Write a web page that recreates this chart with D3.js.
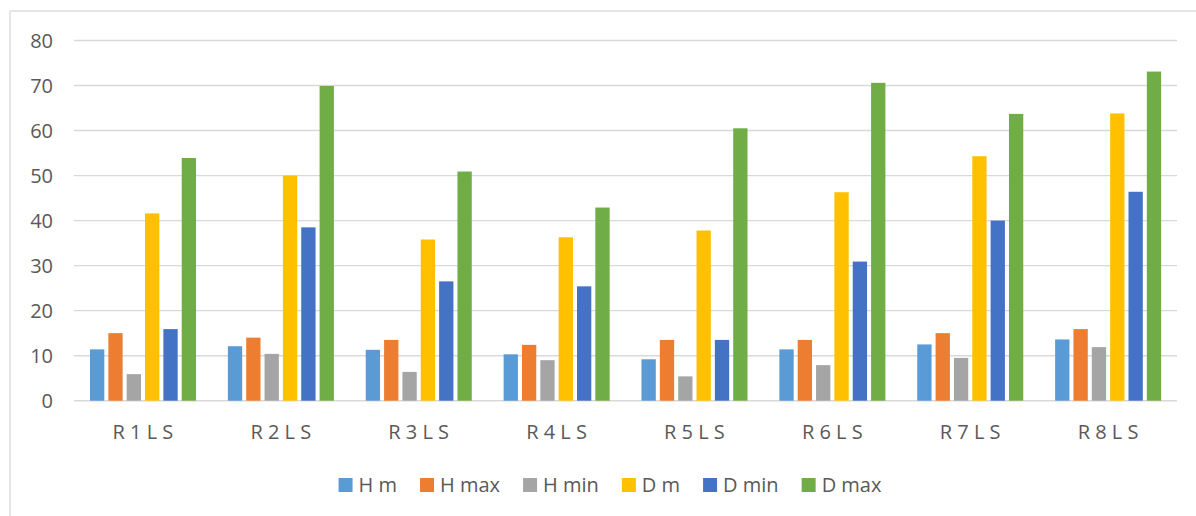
<!DOCTYPE html>
<html>
<head>
<meta charset="utf-8">
<script src="https://cdn.jsdelivr.net/npm/d3@7"></script>
<style>
  html, body { margin: 0; padding: 0; background: #fff; }
  svg { display: block; }
  text { font-family: "Open Sans", "Noto Sans", sans-serif; fill: #595959; }
</style>
</head>
<body>
<svg id="chart" width="1196" height="516"></svg>
<script>
const categories = ["R 1 L S", "R 2 L S", "R 3 L S", "R 4 L S", "R 5 L S", "R 6 L S", "R 7 L S", "R 8 L S"];
const seriesNames = ["H m", "H max", "H min", "D m", "D min", "D max"];
const seriesColors = ["#5B9BD5", "#ED7D31", "#A5A5A5", "#FFC000", "#4472C4", "#70AD47"];
const hM   = [11.4, 12.1, 11.3, 10.3, 9.2, 11.4, 12.5, 13.6];
const hMax = [15.0, 14.0, 13.5, 12.4, 13.5, 13.5, 15.0, 15.9];
const hMin = [5.9, 10.4, 6.4, 9.0, 5.4, 7.9, 9.5, 11.9];
const dM   = [41.6, 50.0, 35.8, 36.3, 37.8, 46.3, 54.3, 63.8];
const dMin = [15.9, 38.5, 26.5, 25.4, 13.5, 30.9, 40.0, 46.4];
const dMax = [53.9, 69.9, 50.9, 42.9, 60.5, 70.6, 63.7, 73.1];
const yTicks = [0, 10, 20, 30, 40, 50, 60, 70, 80];

const seriesValues = [hM, hMax, hMin, dM, dMin, dMax];

const svg = d3.select("#chart");
const W = 1196, H = 516;
const plot = { left: 74, right: 1177, top: 40.5, bottom: 400.7 };

// outer chart border
svg.append("rect")
  .attr("x", 10).attr("y", 11)
  .attr("width", W + 20).attr("height", H + 20)
  .attr("fill", "none").attr("stroke", "#d9d9d9").attr("stroke-width", 1.3);

const y = d3.scaleLinear().domain([0, 80]).range([plot.bottom, plot.top]);
const x0 = d3.scaleBand().domain(categories).range([plot.left, plot.right]).padding(0);
const bw = x0.bandwidth();
const x1 = d3.scaleBand().domain(seriesNames)
  .range([bw * 0.116, bw * 0.885]).paddingInner(0.22).paddingOuter(0);

// gridlines
svg.append("g").selectAll("line").data(yTicks).join("line")
  .attr("x1", plot.left).attr("x2", plot.right)
  .attr("y1", d => y(d)).attr("y2", d => y(d))
  .attr("stroke", "#d9d9d9").attr("stroke-width", 1.4);

// y axis labels
const yAxis = d3.axisLeft(y).tickValues(yTicks).tickSize(0).tickPadding(0);
const gy = svg.append("g").attr("transform", `translate(53,0)`).call(yAxis);
gy.select(".domain").remove();
gy.selectAll("text").attr("font-size", 20).style("font-family", '"Open Sans", sans-serif').attr("fill", "#595959").attr("dy", "0.35em");

// bars
const groups = svg.append("g").selectAll("g").data(categories).join("g")
  .attr("transform", c => `translate(${x0(c)},0)`);
groups.selectAll("rect")
  .data((c, ci) => seriesNames.map((s, si) => ({ s, si, v: seriesValues[si][ci] })))
  .join("rect")
  .attr("x", d => x1(d.s))
  .attr("width", x1.bandwidth())
  .attr("y", d => y(d.v))
  .attr("height", d => y(0) - y(d.v))
  .attr("fill", d => seriesColors[d.si]);

// x axis labels
const xAxis = d3.axisBottom(x0).tickSize(0).tickPadding(0);
const gx = svg.append("g").attr("transform", `translate(0,${plot.bottom + 24})`).call(xAxis);
gx.select(".domain").remove();
gx.selectAll("text").attr("font-size", 20).style("font-family", '"Open Sans", sans-serif').attr("fill", "#595959").attr("dy", "0.71em");

// legend
const legend = svg.append("g");
const items = legend.selectAll("g").data(seriesNames).join("g");
items.append("rect").attr("width", 14).attr("height", 14).attr("y", 478)
  .attr("fill", (d, i) => seriesColors[i]);
items.append("text").attr("x", 20).attr("y", 492).attr("font-size", 20).text(d => d);
const gap = 23;
const widths = [];
items.each(function () {
  const t = d3.select(this).select("text").node().getComputedTextLength();
  widths.push(20 + t);
});
const total = d3.sum(widths) + gap * (widths.length - 1);
const start = 610 - total / 2;
items.attr("transform", (d, i) => {
  const xx = start + d3.sum(widths.slice(0, i)) + gap * i;
  return `translate(${xx},0)`;
});
</script>
</body>
</html>
